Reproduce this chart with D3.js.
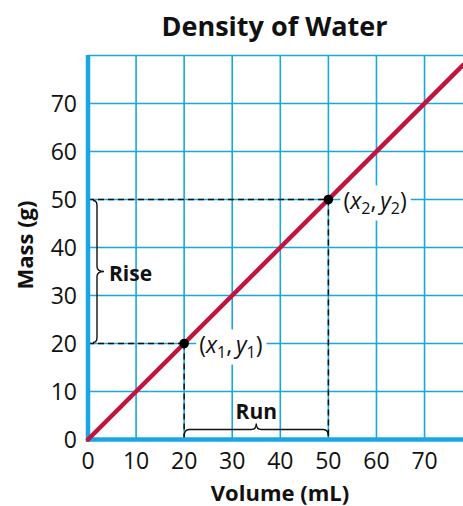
<!DOCTYPE html>
<html>
<head>
<meta charset="utf-8">
<script src="https://cdn.jsdelivr.net/npm/d3@7"></script>
<style>
  html, body { margin: 0; padding: 0; background: #fff; }
  svg { display: block; }
  text { font-family: "Open Sans", Lato, sans-serif; fill: #111; }
</style>
</head>
<body>
<script>
// ---- data ----
const chartTitle = "Density of Water";
const xLabel = "Volume (mL)";
const yLabel = "Mass (g)";
const xTicks = [0, 10, 20, 30, 40, 50, 60, 70];
const yTicks = [0, 10, 20, 30, 40, 50, 60, 70];
const xGrid = [10, 20, 30, 40, 50, 60, 70];
const yGrid = [10, 20, 30, 40, 50, 60, 70, 80];
const lineVolume = [0, 78];
const lineMass = [0, 78];
const pointVolume = [20, 50];
const pointMass = [20, 50];
const pointIndex = ["1", "2"];

// ---- layout ----
const W = 463, H = 506;
const gridColor = "#1aa6e3";
const lineColor = "#c3133f";

const svg = d3.select("body").append("svg").attr("width", W).attr("height", H);

const x = d3.scaleLinear().domain([0, 78]).range([88, 463]);
const y = d3.scaleLinear().domain([0, 80]).range([439.5, 55.5]);

// grid
svg.append("g").selectAll("line").data(xGrid).join("line")
  .attr("x1", d => x(d)).attr("x2", d => x(d))
  .attr("y1", y(0)).attr("y2", y(80))
  .attr("stroke", gridColor).attr("stroke-width", 1.6);
svg.append("g").selectAll("line").data(yGrid).join("line")
  .attr("x1", x(0)).attr("x2", x(78))
  .attr("y1", d => y(d)).attr("y2", d => y(d))
  .attr("stroke", gridColor).attr("stroke-width", 1.6);

// dashed guides
const guides = svg.append("g").attr("stroke", "#111").attr("stroke-width", 1.5)
  .attr("stroke-dasharray", "6,4").attr("fill", "none");
pointVolume.forEach((v, i) => {
  guides.append("line").attr("x1", x(0)).attr("x2", x(v))
    .attr("y1", y(pointMass[i])).attr("y2", y(pointMass[i]));
  guides.append("line").attr("x1", x(v)).attr("x2", x(v))
    .attr("y1", y(pointMass[i])).attr("y2", y(0));
});

// label backgrounds + labels
const labelG = svg.append("g");
pointVolume.forEach((v, i) => {
  const g = labelG.append("g");
  const t = g.append("text")
    .attr("x", x(v) + 15).attr("y", y(pointMass[i]) + 9)
    .style("font-size", "23px");
  t.append("tspan").text("(");
  t.append("tspan").style("font-style", "italic").text("x");
  t.append("tspan").attr("dy", 5).style("font-size", "16px").text(pointIndex[i]);
  t.append("tspan").attr("dy", -5).text(",\u2009");
  t.append("tspan").style("font-style", "italic").text("y");
  t.append("tspan").attr("dy", 5).style("font-size", "16px").text(pointIndex[i]);
  t.append("tspan").attr("dy", -5).text(")");
  const bb = t.node().getBBox();
  g.insert("rect", "text").attr("x", bb.x - 3).attr("y", bb.y + 2)
    .attr("width", bb.width + 7).attr("height", bb.height).attr("fill", "#fff");
});

// braces
function vBrace(xx, y1, y2) {
  const m = (y1 + y2) / 2, r = 5;
  return `M${xx - 4},${y1} Q${xx},${y1} ${xx},${y1 + r} L${xx},${m - r} Q${xx},${m} ${xx + 7},${m}` +
         ` Q${xx},${m} ${xx},${m + r} L${xx},${y2 - r} Q${xx},${y2} ${xx - 4},${y2}`;
}
function hBrace(x1, x2, yy) {
  const m = (x1 + x2) / 2, r = 5;
  return `M${x1},${yy + 7} Q${x1},${yy} ${x1 + r},${yy} L${m - 5},${yy} Q${m},${yy} ${m},${yy - 6}` +
         ` Q${m},${yy} ${m + 5},${yy} L${x2 - r},${yy} Q${x2},${yy} ${x2},${yy + 7}`;
}
svg.append("path").attr("d", vBrace(x(0) + 9, y(pointMass[1]) + 1, y(pointMass[0]) - 1))
  .attr("fill", "none").attr("stroke", "#111").attr("stroke-width", 1.4);
svg.append("path").attr("d", hBrace(x(pointVolume[0]), x(pointVolume[1]), y(0) - 10))
  .attr("fill", "none").attr("stroke", "#111").attr("stroke-width", 1.4);
svg.append("text").attr("x", x(0) + 21).attr("y", (y(pointMass[0]) + y(pointMass[1])) / 2 + 9)
  .style("font-size", "21px").style("font-weight", "bold").text("Rise");
svg.append("text").attr("x", (x(pointVolume[0]) + x(pointVolume[1])) / 2).attr("y", y(0) - 21)
  .attr("text-anchor", "middle").style("font-size", "21px").style("font-weight", "bold").text("Run");

// axes lines
svg.append("line").attr("x1", x(0)).attr("x2", x(0)).attr("y1", y(80) - 0.5).attr("y2", y(0) + 2.5)
  .attr("stroke", gridColor).attr("stroke-width", 4.5);
svg.append("line").attr("x1", x(0) - 2).attr("x2", x(78)).attr("y1", y(0)).attr("y2", y(0))
  .attr("stroke", gridColor).attr("stroke-width", 4.5);

// data line
svg.append("path")
  .datum(lineVolume.map((v, i) => [v, lineMass[i]]))
  .attr("d", d3.line().x(d => x(d[0])).y(d => y(d[1])))
  .attr("stroke", lineColor).attr("stroke-width", 4.5).attr("fill", "none").attr("stroke-linecap", "round");

// points
svg.append("g").selectAll("circle").data(pointVolume).join("circle")
  .attr("cx", d => x(d)).attr("cy", (d, i) => y(pointMass[i])).attr("r", 4.8).attr("fill", "#000");

// tick labels
svg.append("g").selectAll("text").data(xTicks).join("text")
  .attr("x", d => x(d)).attr("y", 469).attr("text-anchor", "middle")
  .style("font-size", "23px").text(d => d);
svg.append("g").selectAll("text").data(yTicks).join("text")
  .attr("x", 77).attr("y", d => y(d) + 8).attr("text-anchor", "end")
  .style("font-size", "23px").text(d => d);

// titles
svg.append("text").attr("x", 274.5).attr("y", 36).attr("text-anchor", "middle")
  .style("font-size", "27px").style("font-weight", "bold").text(chartTitle);
svg.append("text").attr("x", 280).attr("y", 501).attr("text-anchor", "middle")
  .style("font-size", "22px").style("font-weight", "bold").text(xLabel);
svg.append("text").attr("transform", "translate(33,245) rotate(-90)").attr("text-anchor", "middle")
  .style("font-size", "22px").style("font-weight", "bold").text(yLabel);
</script>
</body>
</html>
